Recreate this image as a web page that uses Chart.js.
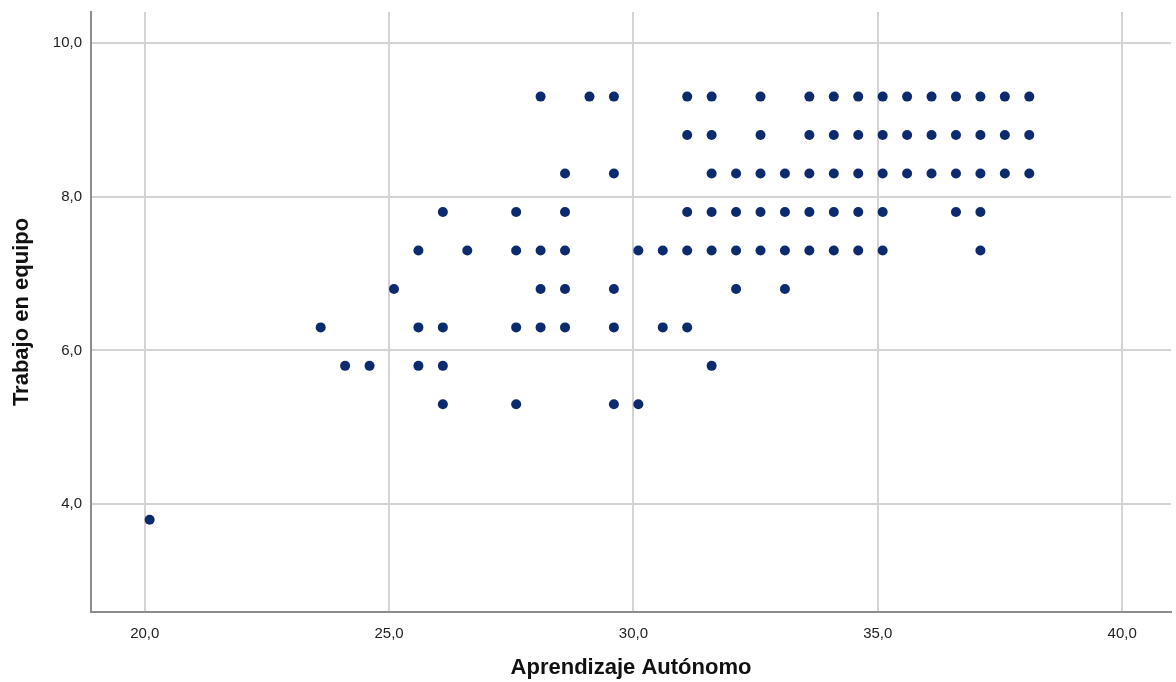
<!DOCTYPE html>
<html>
<head>
<meta charset="utf-8">
<script src="https://cdn.jsdelivr.net/npm/chart.js@4/dist/chart.umd.min.js"></script>
<style>
  html, body { margin: 0; padding: 0; background: #fff; }
  #wrap { width: 1176px; height: 682px; }
</style>
</head>
<body>
<div id="wrap"><canvas id="scatter" width="1176" height="682"></canvas></div>
<script>
// Aprendizaje Autónomo values observed at each Trabajo en equipo level
const yLevels = [9.3, 8.8, 8.3, 7.8, 7.3, 6.8, 6.3, 5.8, 5.3, 3.8];
const xAt93 = [28.1, 29.1, 29.6, 31.1, 31.6, 32.6, 33.6, 34.1, 34.6, 35.1, 35.6, 36.1, 36.6, 37.1, 37.6, 38.1];
const xAt88 = [31.1, 31.6, 32.6, 33.6, 34.1, 34.6, 35.1, 35.6, 36.1, 36.6, 37.1, 37.6, 38.1];
const xAt83 = [28.6, 29.6, 31.6, 32.1, 32.6, 33.1, 33.6, 34.1, 34.6, 35.1, 35.6, 36.1, 36.6, 37.1, 37.6, 38.1];
const xAt78 = [26.1, 27.6, 28.6, 31.1, 31.6, 32.1, 32.6, 33.1, 33.6, 34.1, 34.6, 35.1, 36.6, 37.1];
const xAt73 = [25.6, 26.6, 27.6, 28.1, 28.6, 30.1, 30.6, 31.1, 31.6, 32.1, 32.6, 33.1, 33.6, 34.1, 34.6, 35.1, 37.1];
const xAt68 = [25.1, 28.1, 28.6, 29.6, 32.1, 33.1];
const xAt63 = [23.6, 25.6, 26.1, 27.6, 28.1, 28.6, 29.6, 30.6, 31.1];
const xAt58 = [24.1, 24.6, 25.6, 26.1, 31.6];
const xAt53 = [26.1, 27.6, 29.6, 30.1];
const xAt38 = [20.1];

// tick labels
const xTicks = [20, 25, 30, 35, 40];
const yTicks = [4, 6, 8, 10];

const rows = [xAt93, xAt88, xAt83, xAt78, xAt73, xAt68, xAt63, xAt58, xAt53, xAt38];
const points = [];
rows.forEach((xs, i) => {
    xs.forEach(x => points.push({ x: x, y: yLevels[i] }));
});

const fmt = v => Number(v).toFixed(1).replace('.', ',');

const ctx = document.getElementById('scatter').getContext('2d');
new Chart(ctx, {
    type: 'scatter',
    data: {
        datasets: [{
            data: points,
            backgroundColor: '#0c2a6e',
            borderColor: '#0c2a6e',
            borderWidth: 0,
            pointRadius: 5,
            pointHoverRadius: 5
        }]
    },
    options: {
        responsive: false,
        animation: false,
        layout: { padding: { top: 12, right: 3, left: 0, bottom: 0 } },
        plugins: {
            legend: { display: false },
            tooltip: { enabled: false }
        },
        scales: {
            x: {
                type: 'linear',
                min: 18.9,
                max: 41,
                afterBuildTicks: scale => { scale.ticks = xTicks.map(v => ({ value: v })); },
                afterFit: scale => { scale.height = 70; scale.paddingRight = 0; },
                grid: { color: '#d3d3d3', lineWidth: 2, drawTicks: false },
                border: { color: '#8c8c8c', width: 2 },
                ticks: {
                    padding: 13,
                    color: '#222',
                    font: { family: 'Liberation Sans', size: 15 },
                    callback: v => fmt(v)
                },
                title: {
                    display: true,
                    text: 'Aprendizaje Autónomo',
                    color: '#111',
                    font: { family: 'Liberation Sans', size: 22, weight: 'bold' },
                    padding: { top: 0, bottom: 1 }
                }
            },
            y: {
                type: 'linear',
                min: 2.6,
                max: 10.4,
                afterBuildTicks: scale => { scale.ticks = yTicks.map(v => ({ value: v })); },
                afterFit: scale => { scale.width = 91; scale.paddingTop = 0; scale.paddingBottom = 0; },
                grid: { color: '#d3d3d3', lineWidth: 2, drawTicks: false },
                border: { color: '#8c8c8c', width: 2 },
                ticks: {
                    padding: 9,
                    color: '#222',
                    font: { family: 'Liberation Sans', size: 15 },
                    callback: v => fmt(v)
                },
                title: {
                    display: true,
                    text: 'Trabajo en equipo',
                    color: '#111',
                    font: { family: 'Liberation Sans', size: 22, weight: 'bold' },
                    padding: { top: 9, bottom: 0 }
                }
            }
        }
    }
});
</script>
</body>
</html>
